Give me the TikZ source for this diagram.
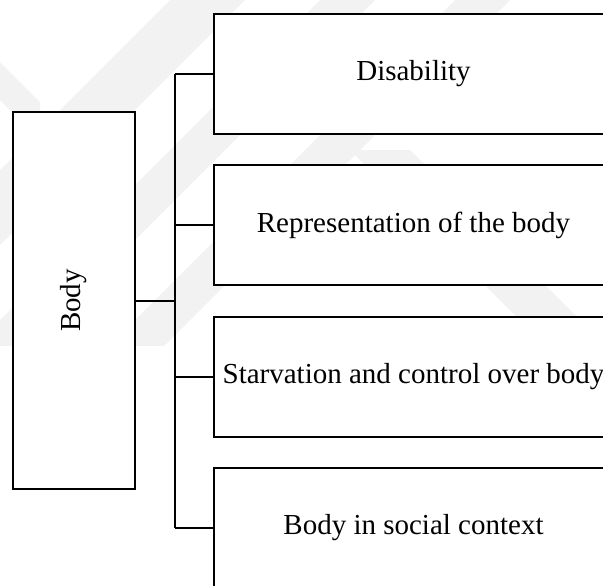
\documentclass[tikz,border=0pt]{standalone}
\usepackage{fontspec}
\setmainfont{Liberation Serif}

\begin{document}
\begin{tikzpicture}[
    x=0.5pt,
    y=-0.5pt,
    line width=1pt,
    band/.style = {
      fill = black!5,
      draw = none
    },
    topic/.style = {
      draw,
      fill = white,
      rectangle,
      inner sep = 0pt,
      minimum width = 199.5pt,
      minimum height = 60pt,
      font = \fontsize{14.5}{17}\selectfont
    },
    root/.style = {
      draw,
      fill = white,
      rectangle,
      inner sep = 0pt,
      minimum width = 61pt,
      minimum height = 188.5pt,
      font = \fontsize{14.5}{17}\selectfont
    }
  ]
  \clip (0,0) rectangle (603,585);

  % faint watermark
  \begin{scope}
    \clip (0,0) rectangle (603,345);
    \fill[band] (170,0) -- (245,0) -- (-155,400) -- (-230,400) -- cycle;
    \fill[band] (320,0) -- (375,0) -- (-25,400) -- (-80,400) -- cycle;
    \fill[band] (455,0) -- (510,0) -- (110,400) -- (55,400) -- cycle;
    \fill[band] (0,62) -- (0,100) -- (40,140) -- (40,102) -- cycle;
    \fill[band] (350,150) -- (410,150) -- (600,340) -- (540,340) -- cycle;
  \end{scope}

  \node[root] (body) at (73.5,300.5) {\rotatebox{90}{Body}};

  \node[topic] (dis) at (413.5,74)  {Disability};
  \node[topic] (rep) at (413.5,225) {Representation of the body};
  \node[topic] (sta) at (413.5,377) {Starvation and control over body};
  \node[topic] (soc) at (413.5,528) {Body in social context};

  \coordinate (top) at (175,74);
  \coordinate (bot) at (175,528);

  \draw (top) -- (bot);
  \draw (body.east) -- (body.east -| top);
  \foreach \n in {dis,rep,sta,soc}
    \draw (\n.west) -- (\n.west -| top);
\end{tikzpicture}
\end{document}
